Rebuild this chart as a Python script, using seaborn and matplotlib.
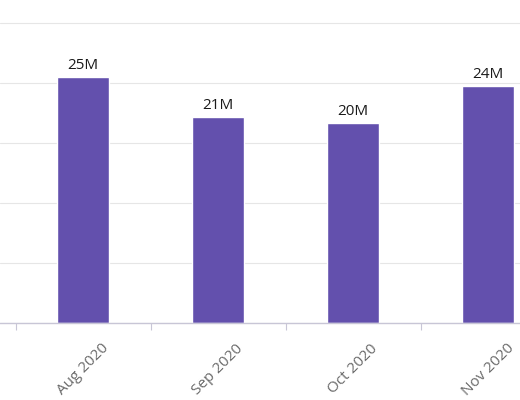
import pandas as pd
import seaborn as sns
import matplotlib.pyplot as plt

months = ['Aug 2020', 'Sep 2020', 'Oct 2020', 'Nov 2020']
users_m = [24.6, 20.6, 20.0, 23.7]  # millions
y_ticks = [0, 6, 12, 18, 24, 30]

df = pd.DataFrame({'Month': months, 'Users': users_m})

sns.set_style('white')
plt.rcParams['font.family'] = ['Open Sans', 'DejaVu Sans']

fig = plt.figure(figsize=(5.2, 4), dpi=100)
ax = fig.add_axes([0, 77 / 400, 1, 323 / 400])

sns.barplot(data=df, x='Month', y='Users', color='#6350ad', saturation=1,
            width=0.385, ax=ax, zorder=2)

# value labels on top of the bars
ax.bar_label(ax.containers[0], labels=[f'{round(v)}M' for v in users_m],
             padding=3, fontsize=11, color='#1a1a1a')

ax.set_xlim(-0.615, 3.237)
ax.set_ylim(0, 32.3)
ax.set_yticks(y_ticks)
ax.set_yticklabels([])
ax.tick_params(axis='y', length=0)
ax.grid(axis='y', color='#e6e6e6', linewidth=0.8, zorder=0)

# boundary tick marks between categories, labels at centers
ax.set_xticks(range(len(months)))
ax.set_xticklabels(months, rotation=45, ha='center', fontsize=11, color='#6a6a6a')
ax.set_xticks([i - 0.5 for i in range(len(months))], minor=True)
ax.tick_params(axis='x', which='major', length=0, pad=13)
ax.tick_params(axis='x', which='minor', bottom=True, length=5,
               color='#c8c6d6', width=0.8)

ax.set_xlabel('')
ax.set_ylabel('')
for side in ['left', 'right', 'top']:
    ax.spines[side].set_visible(False)
ax.spines['bottom'].set_color('#c8c6d6')
ax.spines['bottom'].set_linewidth(1)

fig.savefig('out.png', dpi=100)
